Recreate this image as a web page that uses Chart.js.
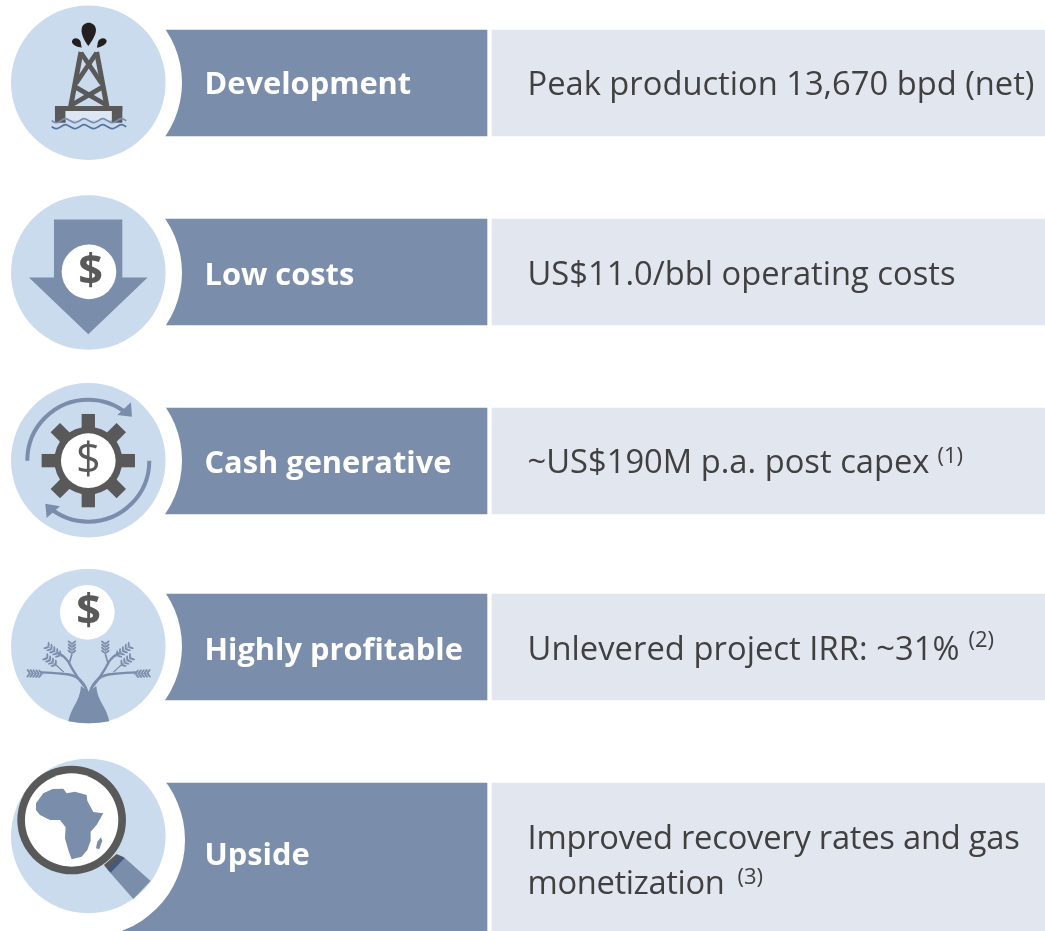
<!DOCTYPE html>
<html>
<head>
<meta charset="utf-8">
<title>Project highlights</title>
<script src="https://cdn.jsdelivr.net/npm/chart.js"></script>
<style>
  html, body { margin: 0; padding: 0; background: #fff; }
  canvas { display: block; }
</style>
</head>
<body>
<canvas id="highlights" width="1045" height="931"></canvas>
<script>
const categories = ["Development", "Low costs", "Cash generative", "Highly profitable", "Upside"];
const valueLines = [
  [["Peak production 13,670 bpd (net)", ""]],
  [["US$11.0/bbl operating costs", ""]],
  [["~US$190M p.a. post capex", "(1)"]],
  [["Unlevered project IRR: ~31%", "(2)"]],
  [["Improved recovery rates and gas", ""], ["monetization", "(3)"]],
];
const valueWidths = [[507], [428], [402], [432], [492, 197]];
const rowTops = [30, 219, 408, 594, 783];
const rowBottoms = [136, 325, 514, 700, 931];
const iconCentres = [82.7, 272.5, 460.3, 646.3, 836];
const ringCentres = [82.7, 272.5, 460.3, 646.3, 840];
const ringSizes = [94, 94, 94, 94, 97];
const labelBaselines = [94, 285, 473, 660, 865];
const valueBaselines = [[95], [285], [473], [660], [849, 894]];
const noteLifts = [0, 0, 10, 13, 10];
const noteGaps = [0, 0, 8, 9, 13];

const BLUE = "#7a8daa", PALE = "#cadbee", GREY = "#595959", FILL = "#e2e6ee", TEXT = "#404040";
const FONT = '"Open Sans", sans-serif';

function poly(ctx, pts) {
  ctx.beginPath();
  pts.forEach((p, i) => (i ? ctx.lineTo(p[0], p[1]) : ctx.moveTo(p[0], p[1])));
  ctx.closePath();
  ctx.fill();
}
function line(ctx, pts, w) {
  ctx.lineWidth = w;
  ctx.beginPath();
  pts.forEach((p, i) => (i ? ctx.lineTo(p[0], p[1]) : ctx.moveTo(p[0], p[1])));
  ctx.stroke();
}
function disc(ctx, x, y, r, col) {
  ctx.fillStyle = col;
  ctx.beginPath();
  ctx.arc(x, y, r, 0, Math.PI * 2);
  ctx.fill();
}
function dollar(ctx, x, y, size, weight) {
  ctx.fillStyle = GREY;
  ctx.font = weight + " " + size + "px " + FONT;
  ctx.textAlign = "center";
  ctx.textBaseline = "middle";
  ctx.fillText("$", x, y);
  ctx.textAlign = "left";
  ctx.textBaseline = "alphabetic";
}

// icons are sketched in 3x coordinates around a local origin of (265, 250)
function rig(ctx) {
  ctx.fillStyle = "#231f20";
  ctx.beginPath();
  ctx.moveTo(265, 138);
  ctx.bezierCurveTo(255, 125, 243, 105, 245, 88);
  ctx.bezierCurveTo(247, 62, 285, 62, 288, 88);
  ctx.bezierCurveTo(289, 105, 275, 125, 265, 138);
  ctx.fill();
  ctx.beginPath();
  ctx.moveTo(245, 143);
  ctx.bezierCurveTo(235, 142, 214, 135, 216, 124);
  ctx.bezierCurveTo(218, 110, 238, 112, 242, 125);
  ctx.closePath();
  ctx.fill();
  ctx.beginPath();
  ctx.moveTo(291, 143);
  ctx.bezierCurveTo(300, 142, 322, 133, 320, 122);
  ctx.bezierCurveTo(316, 110, 298, 113, 294, 125);
  ctx.closePath();
  ctx.fill();

  ctx.strokeStyle = GREY;
  ctx.lineCap = "butt";
  line(ctx, [[243, 156], [212, 320]], 15);
  line(ctx, [[290, 156], [321, 320]], 15);
  line(ctx, [[243, 158], [305, 250]], 14);
  line(ctx, [[290, 158], [228, 250]], 14);
  line(ctx, [[228, 262], [318, 314]], 14);
  line(ctx, [[306, 262], [216, 314]], 14);
  ctx.fillStyle = GREY;
  ctx.fillRect(165, 318, 202, 15);
  ctx.fillRect(165, 318, 32, 50);
  ctx.fillRect(335, 318, 32, 50);
  ctx.fillStyle = "#dde6f1";
  ctx.fillRect(197, 333, 138, 27);

  const wave = (y, col) => {
    ctx.strokeStyle = col;
    ctx.lineWidth = 5;
    ctx.beginPath();
    ctx.moveTo(155, y);
    for (let i = 0; i < 4; i++) {
      const x = 155 + i * 56;
      ctx.bezierCurveTo(x + 14, y + 9, x + 14, y + 7, x + 28, y);
      ctx.bezierCurveTo(x + 42, y - 9, x + 42, y - 7, x + 56, y);
    }
    ctx.stroke();
  };
  wave(362, BLUE);
  wave(380, "#55749f");
}
function arrow(ctx) {
  ctx.fillStyle = BLUE;
  poly(ctx, [[162, 103], [367, 103], [367, 277], [443, 277], [265, 447], [87, 277], [162, 277]]);
  disc(ctx, 267, 260, 82, "#fff");
  dollar(ctx, 272, 262, 130, "bold");
}
function gear(ctx) {
  const cx = 265, cy = 257;
  ctx.save();
  ctx.translate(cx, cy);
  ctx.fillStyle = GREY;
  for (let i = 0; i < 8; i++) {
    ctx.rotate(Math.PI / 4);
    ctx.fillRect(-20, -140, 40, 60);
  }
  ctx.restore();
  disc(ctx, cx, cy, 102, GREY);
  disc(ctx, cx, cy, 82, "#fff");
  dollar(ctx, cx, cy + 2, 130, "normal");
  ctx.strokeStyle = BLUE;
  ctx.lineWidth = 12;
  ctx.beginPath();
  ctx.arc(cx, cy, 183, Math.PI, Math.PI * 1.72);
  ctx.stroke();
  ctx.beginPath();
  ctx.arc(cx, cy, 183, 0, Math.PI * 0.72);
  ctx.stroke();
  ctx.fillStyle = BLUE;
  poly(ctx, [[393, 82], [396, 125], [352, 120]]);
  poly(ctx, [[136, 386], [140, 429], [180, 394]]);
}
// a twig with paired oval leaves
function sprig(ctx, x1, y1, x2, y2, n) {
  const a = Math.atan2(y2 - y1, x2 - x1);
  line(ctx, [[x1, y1], [x2, y2]], 2.5);
  ctx.fillStyle = BLUE;
  for (let i = 0; i < n; i++) {
    const t = (i + 0.5) / n;
    const x = x1 + (x2 - x1) * t, y = y1 + (y2 - y1) * t;
    [0.9, -0.9].forEach((d) => {
      ctx.beginPath();
      ctx.ellipse(x + Math.cos(a + d) * 8, y + Math.sin(a + d) * 8, 8, 3, a + d, 0, Math.PI * 2);
      ctx.fill();
    });
  }
}
function tree(ctx) {
  ctx.strokeStyle = BLUE;
  ctx.lineCap = "round";
  const half = () => {
    ctx.strokeStyle = BLUE;
    ctx.lineWidth = 7;
    ctx.beginPath();
    ctx.moveTo(262, 395);
    ctx.quadraticCurveTo(245, 345, 195, 342);
    ctx.quadraticCurveTo(150, 337, 125, 337);
    ctx.stroke();
    ctx.beginPath();
    ctx.moveTo(258, 385);
    ctx.quadraticCurveTo(225, 345, 205, 305);
    ctx.quadraticCurveTo(190, 285, 175, 280);
    ctx.stroke();
    line(ctx, [[208, 310], [215, 285]], 5);
    line(ctx, [[190, 335], [165, 312]], 4);
    sprig(ctx, 185, 290, 142, 258, 5);
    sprig(ctx, 216, 285, 216, 248, 4);
    sprig(ctx, 172, 318, 138, 292, 4);
    sprig(ctx, 130, 342, 86, 340, 5);
  };
  half();
  ctx.save();
  ctx.translate(532, 0);
  ctx.scale(-1, 1);
  half();
  ctx.restore();
  ctx.fillStyle = BLUE;
  ctx.beginPath();
  ctx.moveTo(205, 484);
  ctx.bezierCurveTo(214, 440, 240, 425, 243, 378);
  ctx.lineTo(266, 395);
  ctx.lineTo(289, 378);
  ctx.bezierCurveTo(292, 425, 320, 440, 328, 484);
  ctx.quadraticCurveTo(265, 496, 205, 484);
  ctx.fill();
  disc(ctx, 262, 157, 82, "#fff");
  dollar(ctx, 266, 157, 130, "bold");
}
function lens(ctx) {
  ctx.fillStyle = BLUE;
  poly(ctx, [[372, 322], [452, 393], [400, 447], [328, 365]]);
  ctx.fillStyle = GREY;
  poly(ctx, [[312, 345], [350, 312], [372, 322], [328, 365]]);
  ctx.fillStyle = "#45597a";
  poly(ctx, [[360, 318], [374, 324], [332, 368], [324, 356]]);
  disc(ctx, 215, 210, 163, GREY);
  disc(ctx, 215, 210, 140, "#fff");
  ctx.fillStyle = BLUE;
  poly(ctx, [[108, 160], [130, 130], [158, 117], [190, 116], [200, 130], [225, 125], [260, 135], [262, 152], [280, 186], [310, 190], [290, 225], [272, 245], [272, 272], [262, 300], [245, 320], [215, 328], [205, 300], [195, 265], [197, 232], [180, 210], [150, 210], [120, 195], [108, 180]]);
  poly(ctx, [[303, 262], [307, 272], [298, 298], [288, 295], [292, 275]]);
}
const iconDrawers = [rig, arrow, gear, tree, lens];
const iconOrigins = [248, 262, 256, 259, 258];

const rowText = {
  id: "rowText",
  afterDatasetsDraw(chart) {
    const ctx = chart.ctx;
    const { x, y } = chart.scales;
    ctx.save();
    categories.forEach((name, i) => {
      ctx.font = "bold 30.8px " + FONT;
      ctx.fillStyle = "#fff";
      ctx.fillText(name, x.getPixelForValue(204.5), y.getPixelForValue(labelBaselines[i]));

      valueLines[i].forEach((parts, j) => {
        const px = x.getPixelForValue(527.5), py = y.getPixelForValue(valueBaselines[i][j]);
        ctx.font = "32.7px " + FONT;
        ctx.fillStyle = TEXT;
        ctx.letterSpacing = "0px";
        const gap = (valueWidths[i][j] - ctx.measureText(parts[0]).width) / parts[0].length;
        ctx.letterSpacing = gap + "px";
        ctx.fillText(parts[0], px, py);
        ctx.letterSpacing = "0px";
        if (parts[1]) {
          ctx.font = "22px " + FONT;
          ctx.fillText(parts[1], px + valueWidths[i][j] + noteGaps[i], py - noteLifts[i]);
        }
      });

      ctx.save();
      ctx.translate(x.getPixelForValue(88.3), y.getPixelForValue(iconCentres[i]));
      ctx.scale(1 / 3, 1 / 3);
      ctx.translate(-265, -iconOrigins[i]);
      iconDrawers[i](ctx);
      ctx.restore();
    });
    ctx.restore();
  },
};

new Chart(document.getElementById("highlights"), {
  type: "bar",
  data: {
    datasets: [
      {
        type: "scatter",
        label: "icon",
        data: iconCentres.map((v) => ({ x: 88.3, y: v })),
        pointRadius: 77.3,
        pointBackgroundColor: PALE,
        pointBorderWidth: 0,
        order: 0,
      },
      {
        type: "scatter",
        label: "ring",
        data: ringCentres.map((v) => ({ x: 88, y: v })),
        pointRadius: ringSizes,
        pointBackgroundColor: "#fff",
        pointBorderWidth: 0,
        order: 1,
      },
      {
        label: "label",
        data: rowTops.map((t, i) => ({ x: 293.5, y: [t, rowBottoms[i]] })),
        backgroundColor: BLUE,
        barThickness: 387,
        grouped: false,
        order: 2,
      },
      {
        label: "value",
        data: rowTops.map((t, i) => ({ x: 768.5, y: [t, rowBottoms[i]] })),
        backgroundColor: FILL,
        barThickness: 553,
        grouped: false,
        order: 2,
      },
    ],
  },
  options: {
    responsive: false,
    animation: false,
    events: [],
    layout: { padding: 0, autoPadding: false },
    plugins: { legend: { display: false }, tooltip: { enabled: false } },
    scales: {
      x: { type: "linear", min: 0, max: 1045, offset: false, display: false },
      y: { type: "linear", min: 0, max: 931, reverse: true, display: false },
    },
  },
  plugins: [rowText],
});
</script>
</body>
</html>
